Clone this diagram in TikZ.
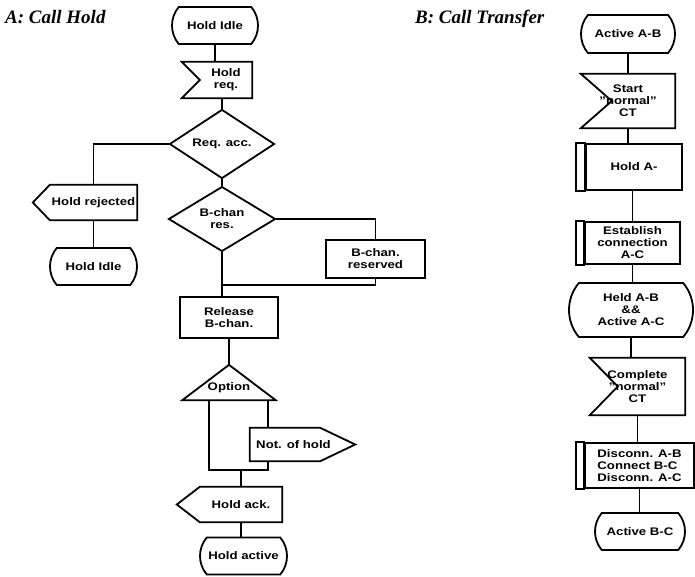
\documentclass[tikz,border=0pt]{standalone}
\usepackage{fontspec}
\setmainfont{Liberation Sans}[FakeStretch=1.2]
\newfontfamily\titlefont{Liberation Serif}
\usetikzlibrary{shapes.geometric,shapes.misc}
\tikzset{
  lw/.style={line width=1.8pt},
  sz/.style 2 args={minimum width=#1pt, minimum height=#2pt},
  base/.style={inner sep=0pt, align=center, font=\fontsize{11}{12}\selectfont\bfseries},
  statebox/.style={base, draw, lw, rounded rectangle, rounded rectangle arc length=80},
  plainbox/.style={base, draw, lw, rectangle},
  hidbox/.style={base, rectangle},
  decbox/.style={base, draw, lw, diamond},
  conn/.style={lw},
  ttl/.style={inner sep=0pt, anchor=base west, font=\titlefont\itshape\bfseries\fontsize{19}{22}\selectfont},
}
\newcommand\recvoutline[3]{%
  \draw[lw] ([xshift=-#2pt]#1.north west) -- (#1.north east) -- (#1.south east) -- ([xshift=-#2pt]#1.south west) -- ([xshift={(#3-#2)*1pt}]#1.west) -- cycle;}
\newcommand\sendLoutline[2]{%
  \draw[lw] (#1.north west) -- (#1.north east) -- (#1.south east) -- (#1.south west) -- ([xshift=-#2pt]#1.west) -- cycle;}
\newcommand\sendRoutline[3]{%
  \draw[lw] (#1.north west) -- ([xshift=-#2pt]#1.north east) -- ([xshift=#3pt]#1.east) -- ([xshift=-#2pt]#1.south east) -- (#1.south west) -- cycle;}
\newcommand\procoutline[2]{%
  \draw[lw] ([xshift=-#2pt]#1.north west) rectangle (#1.south west);}
\begin{document}
\begin{tikzpicture}[x=1pt, y=-1pt]
\useasboundingbox (0,0) rectangle (695,576);

% titles
\node[ttl] (ta) at (5,23) {A: Call Hold};
\node[ttl] (tb) at (415,23) {B: Call Transfer};

% ---------------- A: Call Hold
\node[statebox, sz={86}{37}] (idle1) at (215,25.5) {Hold Idle};
\node[hidbox, sz={52}{36}] (holdreq) at (226,80) {Hold\\req.};
\recvoutline{holdreq}{18}{18}
\node[decbox, sz={105}{56}] (reqacc) at (222,144) {Req. acc.};
\node[hidbox, sz={87}{35}] (holdrej) at (93.5,202.5) {Hold rejected};
\sendLoutline{holdrej}{17}
\node[statebox, sz={87}{37}] (idle2) at (93.5,266.5) {Hold Idle};
\node[decbox, sz={107}{54}] (bres) at (222,219) {B-chan\\res.};
\node[plainbox, sz={99}{38}] (bresv) at (375.5,259) {B-chan.\\reserved};
\node[plainbox, sz={98}{41}] (release) at (229,317.5) {Release\\B-chan.};
\node[hidbox, sz={93}{24}] (opt) at (229,388) {Option};
\draw[lw] (opt.south west) -- ([yshift=11pt]opt.north) -- (opt.south east) -- cycle;
\node[hidbox, sz={87}{33}] (nothold) at (293.5,444.5) {Not. of hold};
\sendRoutline{nothold}{17}{18}
\node[hidbox, sz={82}{35}] (holdack) at (241,504.5) {Hold ack.};
\sendLoutline{holdack}{23}
\node[statebox, sz={87}{37}] (holdact) at (243.5,556) {Hold active};

\coordinate (jb) at (222,285);
\coordinate (optTop) at ([yshift=11pt]opt.north);
\coordinate (jl) at (209,470);
\coordinate (jr) at (268,470);

\draw[conn] (idle1.south) -- (idle1.south |- holdreq.north);
\draw[conn] (reqacc.north |- holdreq.south) -- (reqacc.north);
\draw[conn] (reqacc.west) -| (holdrej.north);
\draw[conn] (holdrej.south) -- (idle2.north);
\draw[conn] (reqacc.south) -- (bres.north);
\draw[conn] (bres.east) -| (bresv.north);
\draw[conn] (bres.south) -- (bres.south |- release.north);
\draw[conn] (bresv.south) |- (jb);
\draw[conn] (release.south) -- (optTop);
\draw[conn] (opt.south -| jl) -- (jl) -- (jr) -- (jr |- nothold.south);
\draw[conn] (opt.south -| jr) -- (jr |- nothold.north);
\draw[conn] (holdack.north |- jl) -- (holdack.north);
\draw[conn] (holdack.south) -- (holdack.south |- holdact.north);

% ---------------- B: Call Transfer
\node[statebox, sz={94}{38}] (actAB) at (628,34) {Active A-B};
\node[hidbox, sz={94}{54}] (startCT) at (628,101) {Start\\"normal"\\CT};
\recvoutline{startCT}{0}{31}
\node[plainbox, sz={96}{46}] (holdA) at (634,167) {Hold A-};
\procoutline{holdA}{9}
\node[plainbox, sz={95}{42}] (estab) at (632.5,243) {Establish\\connection\\A-C};
\procoutline{estab}{8}
\node[statebox, sz={124}{54}] (heldAB) at (631,310) {Held A-B\\\&\&\\Active A-C};
\node[hidbox, sz={95}{57}] (complete) at (637.5,386.5) {Complete\\"normal"\\CT};
\recvoutline{complete}{0}{28}
\node[plainbox, sz={109}{45}, align=left] (disc) at (639.5,465.5) {Disconn. A-B\\Connect B-C\\Disconn. A-C};
\procoutline{disc}{8}
\node[statebox, sz={90}{37}] (actBC) at (640,531.5) {Active B-C};

\draw[conn] (actAB.south) -- (startCT.north);
\draw[conn] (startCT.south) -- (startCT.south |- holdA.north);
\draw[conn] (estab.north |- holdA.south) -- (estab.north);
\draw[conn] (estab.south) -- (estab.south |- heldAB.north);
\draw[conn] (heldAB.south) -- (heldAB.south |- complete.north);
\draw[conn] (complete.south) -- (complete.south |- disc.north);
\draw[conn] (disc.south) -- (disc.south |- actBC.north);
\end{tikzpicture}
\end{document}
